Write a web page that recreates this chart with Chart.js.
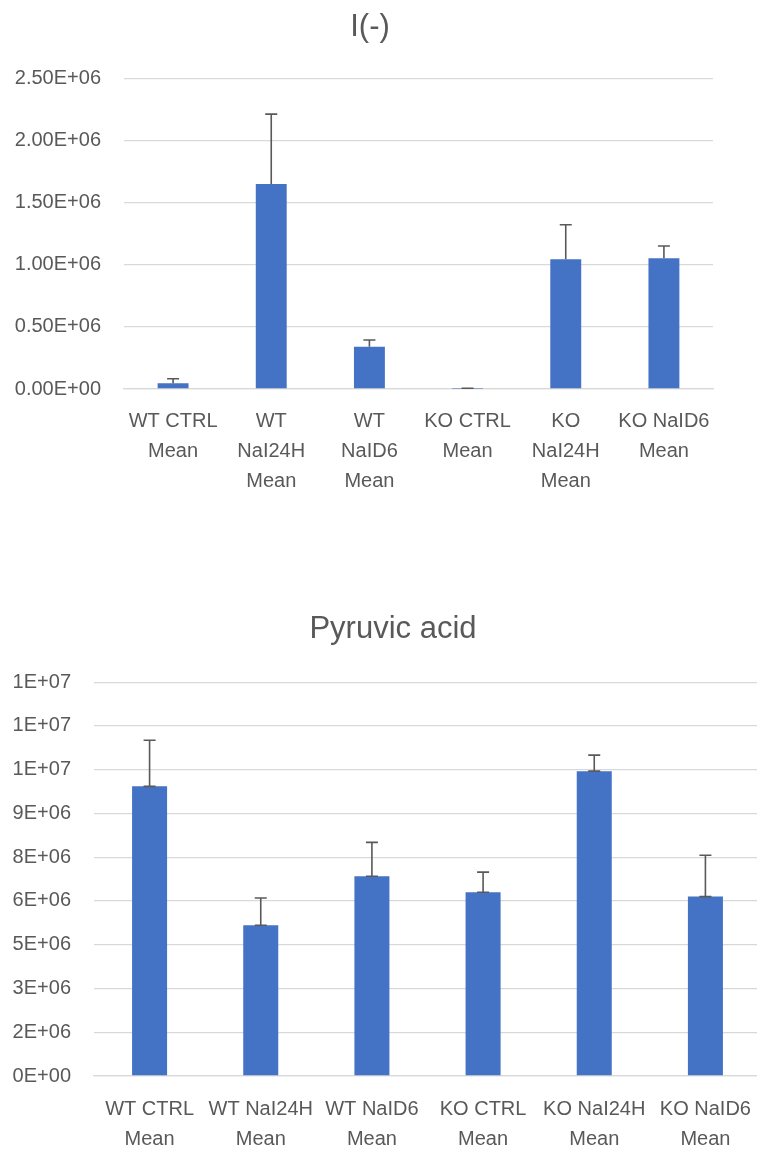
<!DOCTYPE html>
<html>
<head>
<meta charset="utf-8">
<script src="https://cdn.jsdelivr.net/npm/chart.js@4.4.1/dist/chart.umd.min.js"></script>
<style>
  html, body { margin: 0; padding: 0; background: #ffffff; overflow: hidden; }
  body { width: 757px; height: 1149px; position: relative; }
  .box { position: absolute; left: 0; }
  #box1 { top: 0; width: 740px; height: 510px; }
  #box2 { top: 600px; width: 786px; height: 549px; }
</style>
</head>
<body>
<div class="box" id="box1"><canvas id="ionChart"></canvas></div>
<div class="box" id="box2"><canvas id="pyruvicChart"></canvas></div>

<script>
// ---- data ----
const ionCategories = [
  ['WT CTRL', 'Mean'],
  ['WT', 'NaI24H', 'Mean'],
  ['WT', 'NaID6', 'Mean'],
  ['KO CTRL', 'Mean'],
  ['KO', 'NaI24H', 'Mean'],
  ['KO NaID6', 'Mean']
];
const ionMeans = [46000, 1648000, 340000, 3000, 1043000, 1051000];
const ionErrors = [37000, 563000, 54000, 3000, 278000, 99000];
const ionTickLabels = ['0.00E+00', '0.50E+06', '1.00E+06', '1.50E+06', '2.00E+06', '2.50E+06'];

const pyrCategories = [
  ['WT CTRL', 'Mean'],
  ['WT NaI24H', 'Mean'],
  ['WT NaID6', 'Mean'],
  ['KO CTRL', 'Mean'],
  ['KO NaI24H', 'Mean'],
  ['KO NaID6', 'Mean']
];
const pyrMeans = [9930000, 5170000, 6850000, 6300000, 10450000, 6150000];
const pyrErrors = [1580000, 930000, 1160000, 690000, 550000, 1420000];
const pyrTickLabels = ['0E+00', '2E+06', '3E+06', '5E+06', '6E+06', '8E+06', '9E+06', '1E+07', '1E+07', '1E+07'];

// ---- look ----
const FONT = "'Liberation Sans', Arial, sans-serif";
const TEXT = '#595959';
const GRID = '#d9d9d9';
const BAR = '#4472C4';

/**
 * Plus-direction error bars, drawn through the y scale
 */
const errorBars = {
  id: 'errorBars',
  afterDatasetsDraw(chart, args, opts) {
    const ctx = chart.ctx;
    const yScale = chart.scales.y;
    const meta = chart.getDatasetMeta(0);
    const values = chart.data.datasets[0].data;
    const errs = opts.errors || [];
    const half = opts.capHalf || 6;
    ctx.save();
    ctx.strokeStyle = opts.color || '#595959';
    ctx.lineWidth = opts.width || 1.5;
    meta.data.forEach((bar, i) => {
      const x = bar.x;
      const yBase = yScale.getPixelForValue(values[i]);
      const yTop = yScale.getPixelForValue(values[i] + errs[i]);
      ctx.beginPath();
      ctx.moveTo(x, yBase);
      ctx.lineTo(x, yTop);
      ctx.moveTo(x - half, yTop);
      ctx.lineTo(x + half, yTop);
      if (opts.baseCap) {
        ctx.moveTo(x - half, yBase);
        ctx.lineTo(x + half, yBase);
      }
      ctx.stroke();
    });
    ctx.restore();
  }
};

function makeChart(canvasId, cfg) {
  const canvas = document.getElementById(canvasId);
  return new Chart(canvas.getContext('2d'), {
    type: 'bar',
    data: {
      labels: cfg.labels,
      datasets: [{
        data: cfg.values,
        backgroundColor: BAR,
        borderWidth: 0,
        barPercentage: 0.315,
        categoryPercentage: 1
      }]
    },
    options: {
      responsive: true,
      maintainAspectRatio: false,
      animation: false,
      layout: { padding: 0 },
      plugins: {
        legend: { display: false },
        tooltip: { enabled: false },
        title: {
          display: true,
          text: cfg.title,
          color: TEXT,
          font: { family: FONT, size: 31, weight: 'normal', lineHeight: 1.2 },
          padding: { top: cfg.titleTop, bottom: cfg.titleBottom }
        },
        errorBars: { errors: cfg.errors, baseCap: cfg.baseCap, color: '#595959', width: 1.6, capHalf: 6 }
      },
      scales: {
        x: {
          grid: { display: false, drawTicks: false },
          border: { display: true, color: GRID, width: 1.3 },
          ticks: {
            color: TEXT,
            padding: cfg.xPad,
            maxRotation: 0,
            autoSkip: false,
            font: { family: FONT, size: 20, lineHeight: 1.5 }
          },
          afterFit: (axis) => {
            axis.height = cfg.xHeight;
            axis.paddingLeft = 0;
            axis.paddingRight = 0;
          }
        },
        y: {
          min: 0,
          max: cfg.max,
          grid: { color: GRID, lineWidth: 1.3, drawTicks: false },
          border: { display: false },
          ticks: {
            stepSize: cfg.step,
            color: TEXT,
            padding: 23,
            font: { family: FONT, size: 20 },
            callback: (v, i) => cfg.tickLabels[i]
          },
          afterFit: (axis) => {
            axis.width = cfg.yWidth;
            axis.paddingTop = 0;
            axis.paddingBottom = 0;
          }
        },
        // empty right-hand gap so the title centres like the original
        gap: {
          type: 'linear',
          position: 'right',
          grid: { display: false, drawTicks: false },
          border: { display: false },
          ticks: { display: false },
          afterFit: (axis) => {
            axis.width = cfg.rightGap;
            axis.paddingTop = 0;
            axis.paddingBottom = 0;
          }
        }
      }
    },
    plugins: [errorBars]
  });
}

makeChart('ionChart', {
  title: 'I(-)',
  labels: ionCategories,
  values: ionMeans,
  errors: ionErrors,
  tickLabels: ionTickLabels,
  max: 2500000,
  step: 500000,
  baseCap: false,
  rightGap: 27,
  titleTop: 9,
  titleBottom: 32,
  xPad: 17,
  xHeight: 121,
  yWidth: 124
});

makeChart('pyruvicChart', {
  title: 'Pyruvic acid',
  labels: pyrCategories,
  values: pyrMeans,
  errors: pyrErrors,
  tickLabels: pyrTickLabels,
  max: 13500000,
  step: 1500000,
  baseCap: true,
  rightGap: 25,
  titleTop: 11,
  titleBottom: 34,
  xPad: 18,
  xHeight: 73,
  yWidth: 94
});
</script>
</body>
</html>
